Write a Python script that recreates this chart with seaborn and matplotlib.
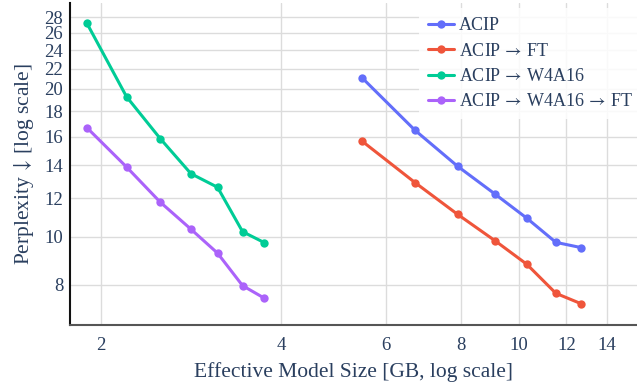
import numpy as np
import pandas as pd
import seaborn as sns
import matplotlib
matplotlib.use("Agg")
import matplotlib.pyplot as plt
from matplotlib.ticker import FixedLocator, NullLocator, FixedFormatter

# Data
series_names = ["ACIP", r"ACIP $\!\rightarrow\!$ FT", r"ACIP $\!\rightarrow\!$ W4A16",
                r"ACIP $\!\rightarrow\!$ W4A16 $\!\rightarrow\!$ FT"]
size_fp16 = [5.47, 6.70, 7.89, 9.11, 10.30, 11.52, 12.71]
size_w4a16 = [1.896, 2.208, 2.514, 2.829, 3.134, 3.451, 3.75]
ppl_acip = [21.05, 16.48, 13.93, 12.23, 10.92, 9.75, 9.51]
ppl_acip_ft = [15.65, 12.9, 11.12, 9.83, 8.8, 7.68, 7.31]
ppl_w4a16 = [27.2, 19.29, 15.85, 13.45, 12.62, 10.25, 9.74]
ppl_w4a16_ft = [16.68, 13.88, 11.77, 10.37, 9.27, 7.96, 7.51]
colors = ["#636efa", "#EF553B", "#00cc96", "#ab63fa"]
x_ticks = [2, 4, 6, 8, 10, 12, 14]
y_ticks = [8, 10, 12, 14, 16, 18, 20, 22, 24, 26, 28]

rows = []
for name, xs, ys in zip(series_names,
                        [size_fp16, size_fp16, size_w4a16, size_w4a16],
                        [ppl_acip, ppl_acip_ft, ppl_w4a16, ppl_w4a16_ft]):
    for x, y in zip(xs, ys):
        rows.append({"size": x, "ppl": y, "method": name})
df = pd.DataFrame(rows)

sns.set_style("white")
plt.rcParams["font.family"] = ["Liberation Serif", "DejaVu Serif"]
plt.rcParams["mathtext.fontset"] = "stix"
text_color = "#2a3f5f"

fig = plt.figure(figsize=(6.37, 3.87), dpi=100)
ax = fig.add_axes([0.110, 0.161, 0.890, 0.831])

sns.lineplot(data=df, x="size", y="ppl", hue="method", hue_order=series_names,
             palette=dict(zip(series_names, colors)), marker="o", markersize=6,
             markeredgewidth=0, linewidth=2.2, sort=False, ax=ax, zorder=3)

ax.set_xscale("log")
ax.set_yscale("log")
ax.set_xlim(1.777, 15.74)
ax.set_ylim(6.63, 29.9)

ax.xaxis.set_major_locator(FixedLocator(x_ticks))
ax.xaxis.set_major_formatter(FixedFormatter([str(t) for t in x_ticks]))
ax.xaxis.set_minor_locator(NullLocator())
ax.yaxis.set_major_locator(FixedLocator(y_ticks))
ax.yaxis.set_major_formatter(FixedFormatter([str(t) for t in y_ticks]))
ax.yaxis.set_minor_locator(NullLocator())

ax.grid(True, which="major", color="#dcdcdc", linewidth=1.0)
ax.set_axisbelow(True)
ax.tick_params(axis="both", length=0, labelsize=13.5, colors=text_color)
ax.tick_params(axis="x", pad=9)
ax.tick_params(axis="y", pad=5)

for s in ["top", "right"]:
    ax.spines[s].set_visible(False)
ax.spines["left"].set_color("#111111")
ax.spines["left"].set_linewidth(1.5)
ax.spines["bottom"].set_color("#555555")
ax.spines["bottom"].set_linewidth(1.5)

ax.set_xlabel("Effective Model Size [GB, log scale]", fontsize=15.5, color=text_color, labelpad=6)
ax.set_ylabel(r"Perplexity $\!\downarrow\!$ [log scale]", fontsize=15.5, color=text_color, labelpad=6)

leg = ax.legend(loc="upper right", bbox_to_anchor=(1.009, 0.984), borderaxespad=0.0,
                fontsize=13, frameon=True, handlelength=1.44, handletextpad=0.28,
                labelspacing=0.46, borderpad=0.5)
leg.get_frame().set_facecolor("white")
leg.get_frame().set_alpha(0.85)
leg.get_frame().set_linewidth(0)
for t in leg.get_texts():
    t.set_color(text_color)

fig.savefig("out.png", dpi=100)
